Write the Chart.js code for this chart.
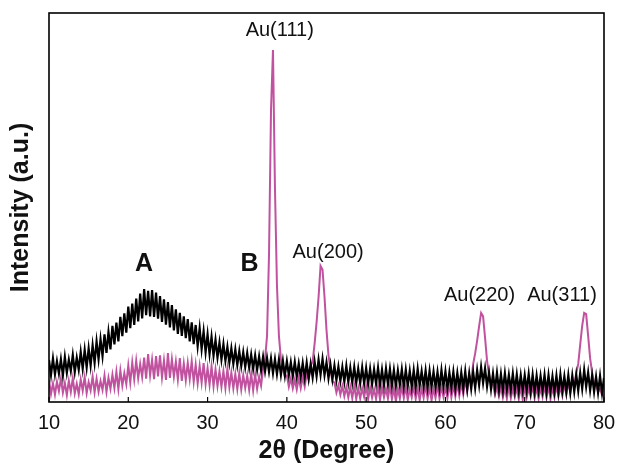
<!DOCTYPE html>
<html lang="en">
<head>
    <meta charset="UTF-8">
    <title>XRD pattern</title>
    <style>
        body {
            margin: 0;
            padding: 0;
            background-color: #ffffff;
            overflow: hidden;
        }
        .chart-container {
            position: relative;
            width: 618px;
            height: 466px;
        }
    </style>
</head>
<body>
    <div class="chart-container">
        <canvas id="xrd-chart"></canvas>
    </div>

    <script src="https://cdn.jsdelivr.net/npm/chart.js"></script>
    <script>
        // 2theta sampling (degrees)
        const twoTheta = [
            10, 10.25, 10.5, 10.75, 11, 11.25, 11.5, 11.75, 12, 12.25, 12.5, 12.75, 13, 13.25, 13.5, 13.75,
            14, 14.25, 14.5, 14.75, 15, 15.25, 15.5, 15.75, 16, 16.25, 16.5, 16.75, 17, 17.25, 17.5, 17.75,
            18, 18.25, 18.5, 18.75, 19, 19.25, 19.5, 19.75, 20, 20.25, 20.5, 20.75, 21, 21.25, 21.5, 21.75,
            22, 22.25, 22.5, 22.75, 23, 23.25, 23.5, 23.75, 24, 24.25, 24.5, 24.75, 25, 25.25, 25.5, 25.75,
            26, 26.25, 26.5, 26.75, 27, 27.25, 27.5, 27.75, 28, 28.25, 28.5, 28.75, 29, 29.25, 29.5, 29.75,
            30, 30.25, 30.5, 30.75, 31, 31.25, 31.5, 31.75, 32, 32.25, 32.5, 32.75, 33, 33.25, 33.5, 33.75,
            34, 34.25, 34.5, 34.75, 35, 35.25, 35.5, 35.75, 36, 36.25, 36.5, 36.75, 37, 37.25, 37.5, 37.75,
            38, 38.25, 38.5, 38.75, 39, 39.25, 39.5, 39.75, 40, 40.25, 40.5, 40.75, 41, 41.25, 41.5, 41.75,
            42, 42.25, 42.5, 42.75, 43, 43.25, 43.5, 43.75, 44, 44.25, 44.5, 44.75, 45, 45.25, 45.5, 45.75,
            46, 46.25, 46.5, 46.75, 47, 47.25, 47.5, 47.75, 48, 48.25, 48.5, 48.75, 49, 49.25, 49.5, 49.75,
            50, 50.25, 50.5, 50.75, 51, 51.25, 51.5, 51.75, 52, 52.25, 52.5, 52.75, 53, 53.25, 53.5, 53.75,
            54, 54.25, 54.5, 54.75, 55, 55.25, 55.5, 55.75, 56, 56.25, 56.5, 56.75, 57, 57.25, 57.5, 57.75,
            58, 58.25, 58.5, 58.75, 59, 59.25, 59.5, 59.75, 60, 60.25, 60.5, 60.75, 61, 61.25, 61.5, 61.75,
            62, 62.25, 62.5, 62.75, 63, 63.25, 63.5, 63.75, 64, 64.25, 64.5, 64.75, 65, 65.25, 65.5, 65.75,
            66, 66.25, 66.5, 66.75, 67, 67.25, 67.5, 67.75, 68, 68.25, 68.5, 68.75, 69, 69.25, 69.5, 69.75,
            70, 70.25, 70.5, 70.75, 71, 71.25, 71.5, 71.75, 72, 72.25, 72.5, 72.75, 73, 73.25, 73.5, 73.75,
            74, 74.25, 74.5, 74.75, 75, 75.25, 75.5, 75.75, 76, 76.25, 76.5, 76.75, 77, 77.25, 77.5, 77.75,
            78, 78.25, 78.5, 78.75, 79, 79.25, 79.5, 79.75, 80
        ];

        // Sample A (black) intensity, a.u.
        const patternA = [
            10.8, 6.9, 11.2, 7.1,   10.5, 7.3, 11.0, 6.8,   11.6, 7.5, 10.9, 8.0,   12.1, 7.7, 11.4, 8.3,
            12.9, 8.6, 13.4, 8.9,   13.8, 9.4, 14.6, 10.1,  15.6, 11.0, 16.2, 11.8,  17.4, 12.6, 18.0, 13.5,
            19.6, 14.8, 20.4, 15.6, 21.9, 16.9, 22.8, 17.8, 24.5, 19.0, 25.3, 19.8,  26.6, 20.7, 27.9, 21.5,
            29.0, 22.3, 28.6, 22.0, 28.8, 21.9, 28.1, 21.4, 27.2, 20.6, 26.4, 19.9,  25.7, 19.2, 24.9, 18.4,
            23.8, 17.5, 22.9, 17.0, 22.0, 16.4, 21.3, 15.6, 20.5, 14.9, 19.8, 14.3,  19.0, 13.6, 18.2, 12.8,
            17.4, 12.3, 16.8, 11.9, 16.0, 11.4, 15.3, 10.9, 14.9, 10.6, 14.2, 10.1,  13.8, 9.8, 13.5, 9.5,
            13.1, 9.2, 12.8, 9.0,   12.6, 8.8, 12.2, 8.5,   12.0, 8.3, 11.7, 8.1,    11.6, 7.9, 11.3, 7.8,
            11.2, 7.4, 11.0, 7.2,   10.9, 7.0, 10.6, 6.8,   10.5, 6.9, 10.2, 6.6,    10.3, 6.5, 9.9, 6.4,
            10.0, 6.2, 10.1, 6.0,   9.8, 6.3, 10.4, 6.6,    10.9, 7.0, 11.1, 6.9,    10.2, 6.1, 9.6, 5.8,
            9.4, 5.6, 9.1, 5.4,     9.0, 5.2, 9.3, 5.1,     8.8, 5.0, 9.0, 4.9,      8.6, 4.8, 8.9, 4.7,
            8.7, 4.6, 8.5, 4.5,     8.4, 4.7, 8.8, 4.4,     8.3, 4.3, 8.6, 4.5,      8.5, 4.2, 8.2, 4.1,
            8.1, 4.4, 8.4, 4.0,     8.3, 4.1, 8.0, 3.9,     8.2, 3.8, 8.5, 4.2,      7.9, 4.0, 8.1, 3.7,
            8.0, 3.9, 7.8, 3.8,     7.7, 3.6, 8.2, 3.9,     7.9, 3.5, 7.6, 3.7,      7.8, 3.4, 7.5, 3.6,
            7.6, 3.5, 7.9, 3.3,     7.4, 3.4, 7.7, 3.6,     8.2, 4.3, 9.0, 4.9,      8.6, 4.0, 7.6, 3.3,
            7.3, 3.2, 7.5, 3.1,     7.2, 3.0, 7.4, 3.2,     7.0, 3.1, 7.3, 2.9,      7.1, 2.8, 6.9, 3.0,
            6.9, 2.9, 7.2, 2.7,     7.0, 2.6, 6.8, 2.8,     6.7, 2.9, 7.0, 2.5,      6.9, 2.7, 6.6, 2.6,
            6.8, 2.5, 7.1, 2.8,     6.6, 2.6, 6.9, 2.4,     6.8, 2.7, 7.0, 2.9,      7.5, 3.4, 8.3, 3.9,
            7.6, 3.0, 6.8, 2.6,     6.5, 2.4, 6.7, 2.3,     6.2
        ];

        // Sample B (magenta) intensity, a.u.
        const patternB = [
            5.6, 2.1, 4.8, 1.9,     5.2, 2.8, 6.0, 2.4,     4.9, 1.8, 5.5, 2.6,      6.1, 2.2, 4.7, 2.0,
            5.8, 2.9, 6.4, 2.3,     5.1, 3.0, 6.6, 2.5,     6.0, 2.7, 5.4, 3.1,      6.8, 2.6, 6.2, 3.4,
            7.0, 3.6, 7.8, 3.3,     8.1, 4.2, 7.4, 4.6,     9.4, 5.0, 10.2, 5.8,     10.6, 6.1, 9.8, 6.4,
            11.4, 6.0, 12.3, 6.8,   10.9, 5.9, 11.8, 6.6,   12.0, 6.3, 10.7, 5.7,    12.6, 6.2, 11.0, 6.5,
            10.4, 5.8, 11.3, 5.4,   9.9, 5.6, 10.1, 5.9,    10.5, 5.2, 9.6, 4.8,     9.3, 5.0, 10.0, 4.6,
            8.7, 4.4, 9.2, 4.0,     8.4, 4.1, 7.9, 3.9,     8.0, 3.6, 8.6, 3.8,      7.6, 3.5, 7.2, 3.3,
            7.4, 3.2, 6.9, 3.6,     6.8, 3.1, 7.3, 3.0,     7.1, 3.4, 6.5, 4.2,      8.5, 11.0, 17.0, 38.0,
            75.0, 90.5, 55.0, 30.0, 17.0, 11.0, 8.6, 6.5,   6.8, 3.9, 6.1, 3.5,      5.8, 3.2, 6.2, 3.6,
            6.4, 4.0, 7.2, 5.8,     9.2, 10.4, 15.0, 20.5,  27.0, 35.0, 34.0, 27.0,  18.5, 12.0, 8.4, 5.2,
            5.0, 2.4, 4.3, 1.9,     4.1, 1.5, 3.8, 1.2,     3.9, 1.0, 4.2, 0.8,      3.6, 0.9, 3.5, 1.3,
            4.0, 0.7, 3.7, 1.1,     3.3, 0.8, 4.1, 0.6,     3.8, 1.2, 3.4, 0.9,      4.2, 0.7, 3.6, 0.2,
            3.5, 0.9, 4.0, 1.0,     3.9, 0.6, 3.3, 1.2,     4.1, 0.8, 3.7, 0.5,      3.6, 1.1, 4.3, 0.9,
            3.8, 0.4, 3.5, 1.0,     4.4, 0.9, 3.9, 1.3,     3.7, 1.0, 4.5, 1.2,      4.2, 1.4, 4.6, 1.6,
            4.8, 1.9, 5.6, 2.8,     6.9, 5.2, 9.8, 12.5,    15.8, 19.5, 22.9, 22.0,  16.5, 10.6, 7.0, 4.6,
            4.4, 1.9, 3.8, 1.5,     3.9, 1.2, 3.6, 0.9,     4.1, 1.0, 3.4, 1.3,      3.7, 0.8, 4.0, 0.6,
            3.9, 1.1, 3.5, 1.4,     4.2, 1.0, 3.8, 0.9,     3.6, 1.3, 4.1, 1.1,      4.0, 0.8, 3.7, 1.2,
            4.3, 1.4, 3.9, 1.6,     4.6, 1.9, 5.2, 2.4,     5.6, 4.1, 7.4, 9.8,      14.8, 19.6, 22.9, 22.6,
            17.0, 11.2, 7.6, 4.8,   4.9, 2.6, 3.4, 1.8,     1.5
        ];

        const xTicks = [10, 20, 30, 40, 50, 60, 70, 80];

        // peak / sample labels: [text, 2theta, intensity, bold]
        const peakLabels = [
            ['A', 22.0, 35.5, true],
            ['B', 35.3, 35.5, true],
            ['Au(111)', 39.1, 95.5, false],
            ['Au(200)', 45.2, 38.5, false],
            ['Au(220)', 64.3, 27.5, false],
            ['Au(311)', 74.7, 27.5, false]
        ];

        function toPoints(ys) {
            return ys.map((y, i) => ({ x: twoTheta[i], y: y }));
        }

        // frame, inward ticks and the peak labels
        const decorPlugin = {
            id: 'decor',
            afterDraw(chart) {
                const ctx = chart.ctx;
                const area = chart.chartArea;
                const xs = chart.scales.x;
                const ys = chart.scales.y;
                ctx.save();
                ctx.strokeStyle = '#000';
                ctx.lineWidth = 1.6;
                ctx.strokeRect(area.left, area.top, area.right - area.left, area.bottom - area.top);
                ctx.lineWidth = 1.2;
                xTicks.forEach(v => {
                    const px = xs.getPixelForValue(v);
                    ctx.beginPath();
                    ctx.moveTo(px, area.bottom);
                    ctx.lineTo(px, area.bottom - 5);
                    ctx.stroke();
                });
                ctx.fillStyle = '#111';
                ctx.textAlign = 'center';
                ctx.textBaseline = 'middle';
                peakLabels.forEach(([text, x, y, bold]) => {
                    ctx.font = (bold ? 'bold 25px ' : '20px ') + '"Liberation Sans", Arial, sans-serif';
                    ctx.fillText(text, xs.getPixelForValue(x), ys.getPixelForValue(y));
                });
                ctx.restore();
            }
        };

        new Chart(document.getElementById('xrd-chart').getContext('2d'), {
            type: 'line',
            data: {
                datasets: [
                    {
                        label: 'A',
                        data: toPoints(patternA),
                        borderColor: '#000000',
                        borderWidth: 2.2,
                        pointRadius: 0,
                        tension: 0,
                        order: 0
                    },
                    {
                        label: 'B',
                        data: toPoints(patternB),
                        borderColor: '#c0529f',
                        borderWidth: 2.0,
                        pointRadius: 0,
                        tension: 0,
                        order: 1
                    }
                ]
            },
            options: {
                responsive: true,
                maintainAspectRatio: false,
                animation: false,
                layout: { padding: { top: 13, right: 14, left: 0, bottom: 0 } },
                plugins: {
                    legend: { display: false },
                    tooltip: { enabled: false }
                },
                scales: {
                    x: {
                        type: 'linear',
                        min: 10,
                        max: 80,
                        afterBuildTicks(scale) {
                            scale.ticks = xTicks.map(v => ({ value: v }));
                        },
                        afterFit(scale) {
                            scale.height = 64;
                            scale.paddingLeft = 0;
                            scale.paddingRight = 0;
                        },
                        grid: { display: false, drawTicks: false },
                        border: { display: false },
                        ticks: {
                            padding: 9,
                            color: '#111',
                            font: { family: '"Liberation Sans", Arial, sans-serif', size: 20 }
                        },
                        title: {
                            display: true,
                            text: '2θ (Degree)',
                            color: '#111',
                            padding: { top: 0, bottom: 0 },
                            font: { family: '"Liberation Sans", Arial, sans-serif', size: 25, weight: 'bold' }
                        }
                    },
                    y: {
                        min: 0,
                        max: 100,
                        afterFit(scale) { scale.width = 49; },
                        grid: { display: false, drawTicks: false },
                        border: { display: false },
                        ticks: { display: false },
                        title: {
                            display: true,
                            text: 'Intensity (a.u.)',
                            color: '#111',
                            padding: { top: 6, bottom: 0 },
                            font: { family: '"Liberation Sans", Arial, sans-serif', size: 25, weight: 'bold' }
                        }
                    }
                }
            },
            plugins: [decorPlugin]
        });
    </script>
</body>
</html>
